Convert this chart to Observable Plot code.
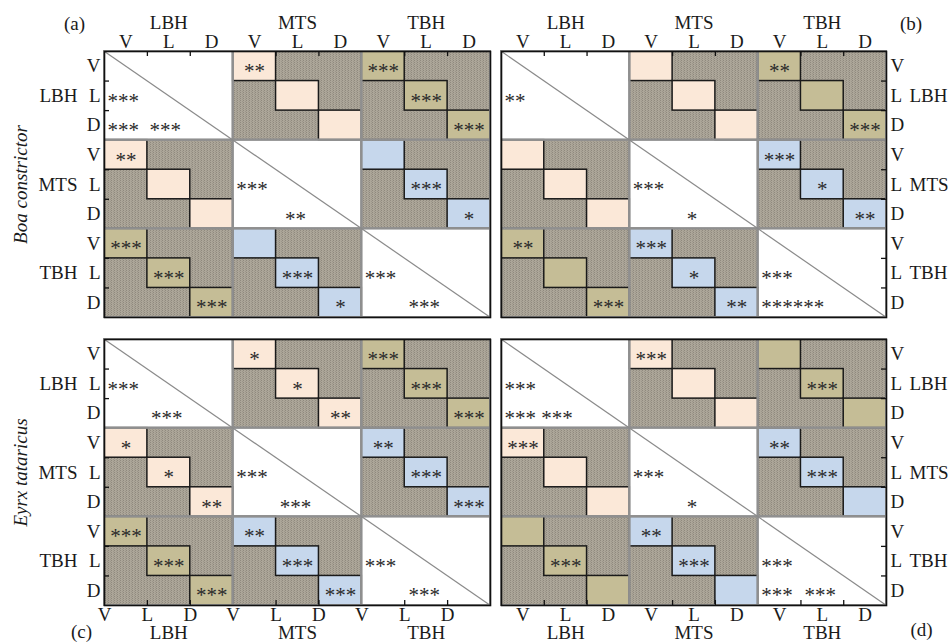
<!DOCTYPE html>
<html><head><meta charset="utf-8">
<script src="https://cdn.jsdelivr.net/npm/d3@7"></script>
<script src="https://cdn.jsdelivr.net/npm/@observablehq/plot@0.6"></script>
<style>
html,body{margin:0;padding:0;background:#fff;}
#chart{position:relative;width:952px;height:642px;overflow:hidden;background:#fff;}
#chart svg{position:absolute;}
</style></head><body><div id="chart"></div>
<script>
const groups = ["LBH", "MTS", "TBH"];
const levels = ["V", "L", "D"];
const species = ["Boa constrictor", "Eyrx tataricus"];
const panelLetters = ["(a)", "(b)", "(c)", "(d)"];
const pairs = ["LBH-MTS", "LBH-TBH", "MTS-TBH"];

// Between-group blocks: [row group, column group, V–V, L–L, D–D]
const offA = [
  ["LBH", "MTS", "**", "", ""],
  ["LBH", "TBH", "***", "***", "***"],
  ["MTS", "LBH", "**", "", ""],
  ["MTS", "TBH", "", "***", "*"],
  ["TBH", "LBH", "***", "***", "***"],
  ["TBH", "MTS", "", "***", "*"]
];
const offB = [
  ["LBH", "MTS", "", "", ""],
  ["LBH", "TBH", "**", "", "***"],
  ["MTS", "LBH", "", "", ""],
  ["MTS", "TBH", "***", "*", "**"],
  ["TBH", "LBH", "**", "", "***"],
  ["TBH", "MTS", "***", "*", "**"]
];
const offC = [
  ["LBH", "MTS", "*", "*", "**"],
  ["LBH", "TBH", "***", "***", "***"],
  ["MTS", "LBH", "*", "*", "**"],
  ["MTS", "TBH", "**", "***", "***"],
  ["TBH", "LBH", "***", "***", "***"],
  ["TBH", "MTS", "**", "***", "***"]
];
const offD = [
  ["LBH", "MTS", "***", "", ""],
  ["LBH", "TBH", "", "***", ""],
  ["MTS", "LBH", "***", "", ""],
  ["MTS", "TBH", "**", "***", ""],
  ["TBH", "LBH", "", "***", ""],
  ["TBH", "MTS", "**", "***", ""]
];

// Within-group blocks (lower triangle): [group, L–V, D–V, D–L]
const withinA = [
  ["LBH", "***", "***\u00a0\u00a0***", ""],
  ["MTS", "***", "", "**"],
  ["TBH", "***", "", "***"]
];
const withinB = [
  ["LBH", "**", "", ""],
  ["MTS", "***", "", "*"],
  ["TBH", "***", "******", ""]
];
const withinC = [
  ["LBH", "***", "", "***"],
  ["MTS", "***", "", "***"],
  ["TBH", "***", "", "***"]
];
const withinD = [
  ["LBH", "***", "*** ***", ""],
  ["MTS", "***", "", "*"],
  ["TBH", "***", "***", "***"]
];

const FONT = "'Liberation Serif', 'Times New Roman', serif";
const pairColors = ["#fbe8d8", "#c5bd96", "#c6d7ec"];

function buildOff(off) {
  const out = [];
  for (const [rg, cg, ...s] of off) {
    const gi = groups.indexOf(rg), gj = groups.indexOf(cg);
    s.forEach((t, k) => out.push({r: gi * 3 + k, c: gj * 3 + k, pair: [rg, cg].sort().join("-"), text: t}));
  }
  return out;
}
function buildWithin(w) {
  const out = [];
  for (const [g, lv, dv, dl] of w) {
    const b = groups.indexOf(g) * 3;
    out.push({r: b + 1, c: b, text: lv, anchor: "start"});
    out.push({r: b + 2, c: b, text: dv, anchor: "start"});
    out.push({r: b + 2, c: b + 1, text: dl, anchor: "middle"});
  }
  return out;
}

const blocks = [];
groups.forEach((a, gi) => groups.forEach((b, gj) => blocks.push({r: gi * 3, c: gj * 3, diag: gi === gj})));
const cellLabels = [];
groups.forEach((g, gi) => levels.forEach((l, k) => cellLabels.push({i: gi * 3 + k, label: l})));
const groupLabels = groups.map((g, gi) => ({i: gi * 3, label: g}));
const tickPos = [];
groups.forEach((g, gi) => [1, 2].forEach(k => tickPos.push(gi * 3 + k)));

function panel(cfg) {
  const {id, off, within, left, top, W, H, mL, mR, mT, mB, xSide, ySide, letter, letterDx, letterDy, speciesLabel, bottomAtTicks} = cfg;
  const FW = W - mL - mR, FH = H - mT - mB;
  const offCells = buildOff(off);
  const inCells = buildWithin(within).filter(d => d.text);
  const txt = {fontFamily: FONT, fontSize: 19, fill: "#1a1a1a"};
  const ast = {fontFamily: FONT, fontSize: 21, fill: "#2a2a2a", lineAnchor: "middle", dy: 5};
  const marks = [
    Plot.rect(blocks.filter(d => !d.diag), {x1: "c", x2: d => d.c + 3, y1: "r", y2: d => d.r + 3, fill: `url(#tex-${id})`}),
    Plot.rect(blocks.filter(d => d.diag), {x1: "c", x2: d => d.c + 3, y1: "r", y2: d => d.r + 3, fill: "white"}),
    Plot.rect(offCells, {x1: "c", x2: d => d.c + 1, y1: "r", y2: d => d.r + 1, fill: "pair", stroke: "#1a1a1a", strokeWidth: 1.5}),
    Plot.rect(blocks, {x1: "c", x2: d => d.c + 3, y1: "r", y2: d => d.r + 3, fill: "none", stroke: "#8f8f8f", strokeWidth: 2}),
    Plot.link(blocks.filter(d => d.diag), {x1: "c", y1: "r", x2: d => d.c + 3, y2: d => d.r + 3, stroke: "#8a8a8a", strokeWidth: 1.2}),
    Plot.text(offCells.filter(d => d.text), {x: d => d.c + 0.5, y: d => d.r + 0.5, text: "text", textAnchor: "middle", ...ast}),
    Plot.text(inCells.filter(d => d.anchor === "start"), {x: "c", y: d => d.r + 0.5, text: "text", textAnchor: "start", dx: 3, ...ast}),
    Plot.text(inCells.filter(d => d.anchor === "middle"), {x: d => d.c + 0.5, y: d => d.r + 0.5, text: "text", textAnchor: "middle", dx: -2, ...ast}),
    Plot.frame({stroke: "#111", strokeWidth: 1.6}),
    Plot.ruleX(tickPos, xSide === "top" ? {insetBottom: FH - 5, stroke: "#111", strokeWidth: 1.3} : {insetTop: FH - 5, stroke: "#111", strokeWidth: 1.3}),
    Plot.ruleY(tickPos, ySide === "left" ? {insetRight: FW - 5, stroke: "#111", strokeWidth: 1.3} : {insetLeft: FW - 5, stroke: "#111", strokeWidth: 1.3})
  ];
  // column labels
  if (xSide === "top") {
    marks.push(Plot.text(cellLabels, {x: d => d.i + 0.5, text: "label", frameAnchor: "top", textAnchor: "middle", lineAnchor: "bottom", dy: -4, ...txt}));
    marks.push(Plot.text(groupLabels, {x: d => d.i + 1.5, text: "label", frameAnchor: "top", textAnchor: "middle", lineAnchor: "bottom", dy: -23, ...txt}));
  } else {
    marks.push(Plot.text(cellLabels, {x: d => bottomAtTicks ? d.i : d.i + 0.5, text: "label", frameAnchor: "bottom", textAnchor: "middle", lineAnchor: "bottom", dy: 15.5, ...txt}));
    marks.push(Plot.text(groupLabels, {x: d => d.i + 1.5, text: "label", frameAnchor: "bottom", textAnchor: "middle", lineAnchor: "bottom", dy: 33, ...txt}));
  }
  // row labels
  if (ySide === "left") {
    marks.push(Plot.text(cellLabels, {y: d => d.i + 0.5, text: "label", frameAnchor: "left", textAnchor: "end", lineAnchor: "middle", dx: -4, ...txt}));
    marks.push(Plot.text(groupLabels, {y: d => d.i + 1.5, text: "label", frameAnchor: "left", textAnchor: "end", lineAnchor: "middle", dx: -27, ...txt}));
  } else {
    marks.push(Plot.text(cellLabels, {y: d => d.i + 0.5, text: "label", frameAnchor: "right", textAnchor: "start", lineAnchor: "middle", dx: 4, ...txt}));
    marks.push(Plot.text(groupLabels, {y: d => d.i + 1.5, text: "label", frameAnchor: "right", textAnchor: "start", lineAnchor: "middle", dx: 23, ...txt}));
  }
  // panel letter
  marks.push(Plot.text([letter], {text: d => d, frameAnchor: xSide === "top" ? (ySide === "left" ? "top-left" : "top-right") : (ySide === "left" ? "bottom-left" : "bottom-right"),
    textAnchor: "middle", lineAnchor: "bottom", dx: letterDx, dy: letterDy, ...txt}));
  if (speciesLabel) {
    marks.push(Plot.text([speciesLabel], {text: d => d, frameAnchor: "left", textAnchor: "middle", lineAnchor: "middle", rotate: -90, dx: -84, fontStyle: "italic", ...txt}));
  }
  const svg = Plot.plot({
    width: W, height: H,
    marginLeft: mL, marginRight: mR, marginTop: mT, marginBottom: mB,
    style: {background: "transparent", overflow: "visible"},
    x: {domain: [0, 9], axis: null},
    y: {domain: [0, 9], reverse: true, axis: null},
    color: {type: "ordinal", domain: pairs, range: pairColors},
    marks
  });
  const ns = "http://www.w3.org/2000/svg";
  const defs = document.createElementNS(ns, "defs");
  defs.innerHTML = `<pattern id="tex-${id}" width="3" height="2" patternUnits="userSpaceOnUse">
    <rect width="3" height="2" fill="#aca699"/><rect x="0" y="0" width="1" height="1" fill="#8f897e"/><rect x="2" y="1" width="1" height="1" fill="#9c968a"/></pattern>`;
  svg.insertBefore(defs, svg.firstChild);
  svg.style.left = left + "px";
  svg.style.top = top + "px";
  document.getElementById("chart").appendChild(svg);
}

panel({id: "a", off: offA, within: withinA, left: 0, top: 0, W: 495, H: 328, mL: 104, mR: 5, mT: 51, mB: 11,
  xSide: "top", ySide: "left", letter: panelLetters[0], letterDx: -30, letterDy: -21.5, speciesLabel: species[0]});
panel({id: "b", off: offB, within: withinB, left: 495, top: 0, W: 457, H: 328, mL: 6, mR: 66, mT: 51, mB: 11,
  xSide: "top", ySide: "right", letter: panelLetters[1], letterDx: 24.5, letterDy: -21.5});
panel({id: "c", off: offC, within: withinC, left: 0, top: 328, W: 495, H: 314, mL: 104, mR: 5, mT: 11, mB: 37,
  xSide: "bottom", ySide: "left", letter: panelLetters[2], letterDx: -23, letterDy: 32, speciesLabel: species[1], bottomAtTicks: true});
panel({id: "d", off: offD, within: withinD, left: 495, top: 328, W: 457, H: 314, mL: 6, mR: 66, mT: 11, mB: 37,
  xSide: "bottom", ySide: "right", letter: panelLetters[3], letterDx: 35, letterDy: 30});
</script></body></html>
